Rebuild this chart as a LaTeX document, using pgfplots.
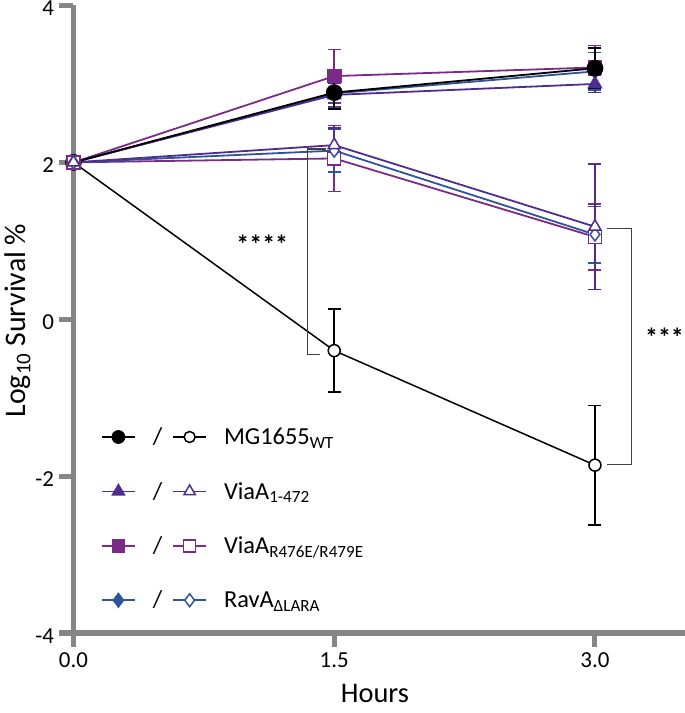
\documentclass[border=0pt]{standalone}
\usepackage{fontspec}
\setmainfont{Carlito}
\usepackage{pgfplots}
\pgfplotsset{compat=1.18}
\definecolor{cvio}{HTML}{4F2D8F}
\definecolor{cmag}{HTML}{7B2A88}
\definecolor{cblu}{HTML}{2F5597}
\definecolor{axgray}{HTML}{858585}
\pgfplotsset{
  eb/.style={
    error bars/y dir=both, error bars/y explicit,
    error bars/error bar style={line width=1.5bp},
    error bars/error mark options={rotate=90, mark size=6.5bp, line width=1.5bp}
  }
}
\begin{document}
\begin{tikzpicture}
\begin{axis}[
  scale only axis, width=611.5bp, height=627.5bp,
  xmin=0, xmax=3.518, ymin=-4, ymax=4,
  axis x line=bottom, axis y line=left,
  axis line style={-, axgray, line width=5bp},
  xtick={0,1.5,3}, ytick={-4,-2,0,2,4},
  tick style={axgray, line width=5bp},
  major tick length=14bp, tick align=outside,
  /pgf/number format/assume math mode=true,
  xticklabel={\pgfmathprintnumber[fixed,fixed zerofill,precision=1]{\tick}},
  ticklabel style={font=\fontsize{23}{26}\selectfont, text=black},
  yticklabel style={yshift=-3bp},
  xticklabel shift=2bp,
  yticklabel shift=2bp,
  xlabel={Hours}, ylabel={Log\textsubscript{10} Survival \%},
  every axis x label/.style={at={(axis description cs:0.493,-0.097)}, anchor=center, inner sep=0.5bp, font=\fontsize{28.5}{32}\selectfont},
  every axis y label/.style={at={(axis description cs:-0.0915,0.498)}, rotate=90, anchor=center, font=\fontsize{30}{34}\selectfont},
  clip=false,
  legend image code/.code={\draw[mark repeat=2,mark phase=2] plot coordinates {(0bp,0bp) (16.5bp,0bp) (33bp,0bp)};},
  legend columns=2,
  legend cell align=left,
  legend style={draw=none, fill=none, at={(axis cs:0.14,-1.33)}, anchor=north west,
    font=\fontsize{24.5}{27}\selectfont, row sep=32bp,
    /tikz/every odd column/.append style={column sep=15bp},
    /tikz/every even column/.append style={column sep=8bp}},
]
% filled series
\addplot[cmag, line width=1.8bp, mark=square*, mark size=6.5bp, mark options={solid, fill=cmag}, eb, forget plot]
  coordinates {(0,2) (1.5,3.1) +- (0,0.34) (3,3.21) +- (0,0.28)};
\addplot[cblu, line width=1.8bp, mark=diamond*, mark size=6.5bp, mark options={solid, fill=cblu}, eb, forget plot]
  coordinates {(0,2) (1.5,2.88) +- (0,0.18) (3,3.16) +- (0,0.24)};
\addplot[cvio, line width=1.8bp, mark=triangle*, mark size=7bp, mark options={solid, fill=cvio}, eb, forget plot]
  coordinates {(0,2) (1.5,2.86) +- (0,0.15) (3,3.0) +- (0,0.11)};
\addplot[black, line width=1.8bp, mark=*, mark size=7.5bp, mark options={solid, fill=black}, eb, forget plot]
  coordinates {(0,2) (1.5,2.89) +- (0,0.21) (3,3.2) +- (0,0.26)};
% open series
\addplot[cmag, line width=1.8bp, mark=square*, mark size=6.5bp, mark options={solid, fill=white, line width=1.5bp}, eb, forget plot]
  coordinates {(0,2) (1.5,2.05) +- (0,0.42) (3,1.05) +- (0,0.42)};
\addplot[cblu, line width=1.8bp, mark=diamond*, mark size=6.5bp, mark options={solid, fill=white, line width=1.5bp}, eb, forget plot]
  coordinates {(0,2) (1.5,2.15) +- (0,0.27) (3,1.08) +- (0,0.36)};
\addplot[cvio, line width=1.8bp, mark=triangle*, mark size=7bp, mark options={solid, fill=white, line width=1.5bp}, eb, forget plot]
  coordinates {(0,2) (1.5,2.22) +- (0,0.22) (3,1.18) +- (0,0.8)};
\addplot[black, line width=1.5bp, mark=*, mark size=6bp, mark options={solid, fill=white, line width=1.5bp}, eb, forget plot]
  coordinates {(1.5,-0.4) +- (0,0.53) (3,-1.86) +- (0,0.76)};
\addplot[black, line width=1.5bp, forget plot] coordinates {(0,2) (1.5,-0.4)};
% brackets
\draw[black!75, line width=1.5bp] (axis cs:1.45,2.17) -- (axis cs:1.345,2.17) -- (axis cs:1.345,-0.45) -- (axis cs:1.42,-0.45);
\node[font=\fontsize{26}{28}\selectfont\bfseries] at (axis cs:1.086,0.95) {****};
\draw[black!75, line width=1.5bp] (axis cs:3.07,1.16) -- (axis cs:3.21,1.16) -- (axis cs:3.21,-1.85) -- (axis cs:3.07,-1.85);
\node[font=\fontsize{26}{28}\selectfont\bfseries] at (axis cs:3.40,-0.23) {***};
% legend
\addlegendimage{black, line width=1.8bp, mark=*, mark size=6bp, mark options={solid, fill=black}}
\addlegendentry{/}
\addlegendimage{black, line width=1.8bp, mark=*, mark size=5.5bp, mark options={solid, fill=white, line width=1.5bp}}
\addlegendentry{MG1655\textsubscript{WT}}
\addlegendimage{cvio, line width=1.8bp, mark=triangle*, mark size=6.5bp, mark options={solid, fill=cvio}}
\addlegendentry{/}
\addlegendimage{cvio, line width=1.8bp, mark=triangle*, mark size=6.5bp, mark options={solid, fill=white, line width=1.5bp}}
\addlegendentry{ViaA\textsubscript{1-472}}
\addlegendimage{cmag, line width=1.8bp, mark=square*, mark size=6bp, mark options={solid, fill=cmag}}
\addlegendentry{/}
\addlegendimage{cmag, line width=1.8bp, mark=square*, mark size=6bp, mark options={solid, fill=white, line width=1.5bp}}
\addlegendentry{ViaA\textsubscript{R476E/R479E}}
\addlegendimage{cblu, line width=1.8bp, mark=diamond*, mark size=6.5bp, mark options={solid, fill=cblu}}
\addlegendentry{/}
\addlegendimage{cblu, line width=1.8bp, mark=diamond*, mark size=6.5bp, mark options={solid, fill=white, line width=1.5bp}}
\addlegendentry{RavA\textsubscript{ΔLARA}}
\end{axis}
\pgfresetboundingbox
\useasboundingbox (-73.5bp,-80bp) rectangle (611.5bp,633bp);
\end{tikzpicture}
\end{document}
